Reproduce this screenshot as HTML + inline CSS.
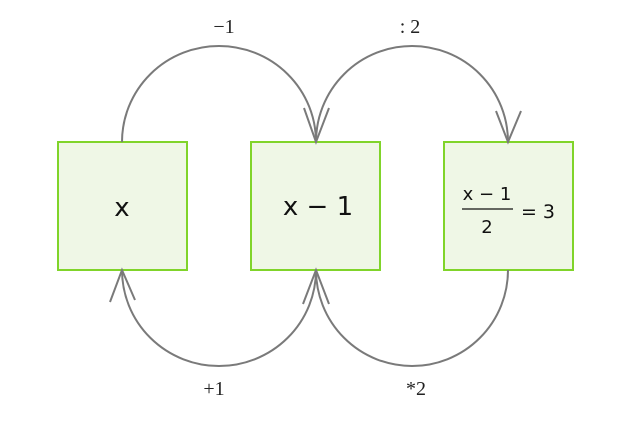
<!DOCTYPE html>
<html><head><style>
html,body{margin:0;padding:0;background:#fff;}
svg{display:block;}
</style></head><body>
<svg width="640" height="432" viewBox="0 0 640 432" xmlns="http://www.w3.org/2000/svg">
<g fill="#eff7e6" stroke="#80d42a" stroke-width="2">
<rect x="58" y="142" width="129" height="128"/>
<rect x="251" y="142" width="129" height="128"/>
<rect x="444" y="142" width="129" height="128"/>
</g>
<g fill="none" stroke="#7a7a7a" stroke-width="2">
<path d="M122 142 A97 96 0 0 1 316 142"/>
<path d="M316 142 A96 96 0 0 1 508 142"/>
<path d="M122 270 A97 96 0 0 0 316 270"/>
<path d="M316 270 A96 96 0 0 0 508 270"/>
<path d="M304 108 L316 142 L329 108"/>
<path d="M496 111 L508 142 L521 111"/>
<path d="M110 302 L122 270 L135 300"/>
<path d="M303 304 L316 270 L329 304"/>
</g>
<g font-family="Liberation Serif, serif" style="font-size:20px" fill="#222" text-anchor="middle">
<text x="224" y="33">−1</text>
<text x="410" y="33">: 2</text>
<text x="214" y="395">+1</text>
<text x="416" y="395">*2</text>
</g>
<g font-family="DejaVu Sans, Liberation Sans, sans-serif" fill="#111" text-anchor="middle">
<text x="122" y="216" style="font-size:26px">x</text>
<text x="318" y="215" style="font-size:26px">x − 1</text>
<text x="487" y="200" style="font-size:18px">x − 1</text>
<line x1="462" y1="209" x2="513" y2="209" stroke="#111" stroke-width="1.3"/>
<text x="487" y="233" style="font-size:18px">2</text>
<text x="538" y="218" style="font-size:19px">= 3</text>
</g>
</svg>
</body></html>
